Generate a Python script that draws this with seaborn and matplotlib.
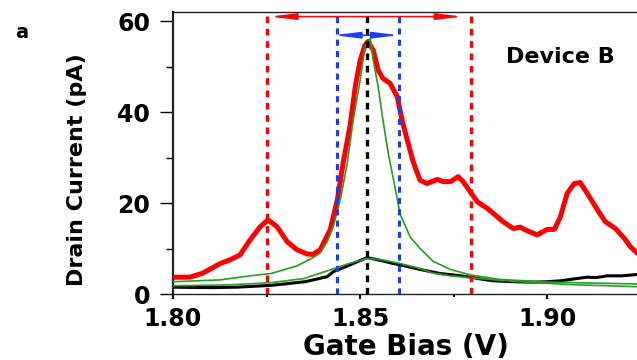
import matplotlib
matplotlib.use("Agg")
import matplotlib.pyplot as plt
import seaborn as sns
import numpy as np
import pandas as pd

# ---------------- data ----------------
red_x = [1.8000, 1.8045, 1.8080, 1.8126, 1.8152, 1.8179, 1.8206, 1.8233, 1.8254,
         1.8278, 1.8305, 1.8332, 1.8358, 1.8374, 1.8393, 1.8420, 1.8439, 1.8455,
         1.8473, 1.8487, 1.8500, 1.8513, 1.8521, 1.8535, 1.8548, 1.8561, 1.8580,
         1.8599, 1.8612, 1.8626, 1.8642, 1.8660, 1.8679, 1.8706, 1.8722, 1.8741,
         1.8762, 1.8775, 1.8794, 1.8813, 1.8840, 1.8856, 1.8882, 1.8909, 1.8928,
         1.8941, 1.8973, 1.9000, 1.9019, 1.9035, 1.9053, 1.9072, 1.9088, 1.9107,
         1.9134, 1.9155, 1.9182, 1.9206, 1.9222, 1.9241]
red_y = [3.7, 3.7, 4.6, 6.7, 7.5, 8.6, 11.9, 14.8, 16.3,
         14.8, 11.5, 9.7, 8.8, 8.7, 9.7, 14.1, 20.7, 29.0,
         37.0, 45.6, 51.4, 54.7, 55.5, 53.6, 49.2, 47.4, 46.3,
         43.4, 38.2, 33.8, 29.0, 25.0, 24.3, 25.2, 24.7, 24.7,
         25.8, 24.7, 22.5, 20.3, 18.8, 17.7, 15.9, 14.4, 14.7,
         14.1, 13.0, 14.2, 14.2, 17.0, 22.1, 24.3, 24.5, 22.1,
         18.5, 15.9, 14.4, 12.2, 10.4, 8.9]

black_x = [1.8000, 1.8100, 1.8171, 1.8262, 1.8353, 1.8412, 1.8428, 1.8470, 1.8518,
           1.8560, 1.8588, 1.8607, 1.8660, 1.8714, 1.8760, 1.8794, 1.8830, 1.8856,
           1.8910, 1.8962, 1.9000, 1.9035, 1.9070, 1.9107, 1.9130, 1.9160, 1.9200,
           1.9241]
black_y = [1.5, 1.4, 1.5, 1.9, 2.7, 3.8, 4.9, 6.3, 8.0,
           7.3, 6.7, 6.4, 5.4, 4.5, 4.1, 3.7, 3.2, 2.9,
           2.7, 2.6, 2.7, 2.9, 3.3, 3.7, 3.6, 4.0, 4.0,
           4.3]

green1_x = [1.8000, 1.8126, 1.8206, 1.8262, 1.8332, 1.8374, 1.8393, 1.8412, 1.8428,
            1.8447, 1.8465, 1.8481, 1.8500, 1.8513, 1.8527, 1.8535, 1.8548, 1.8561,
            1.8575, 1.8591, 1.8607, 1.8634, 1.8660, 1.8695, 1.8741, 1.8794, 1.8874,
            1.9008, 1.9241]
green1_y = [2.7, 3.1, 4.0, 4.5, 6.2, 8.0, 9.0, 11.5, 14.8,
            20.7, 28.5, 38.0, 47.0, 54.4, 56.2, 51.4, 45.6, 38.2,
            31.0, 24.3, 17.5, 12.5, 10.0, 7.2, 5.4, 4.2, 3.2,
            2.6, 2.2]

green2_x = [1.8000, 1.8150, 1.8262, 1.8350, 1.8420, 1.8470, 1.8518, 1.8560, 1.8607,
            1.8660, 1.8695, 1.8740, 1.8794, 1.8874, 1.8928, 1.9050, 1.9241]
green2_y = [1.8, 2.0, 2.5, 3.4, 5.3, 6.7, 7.8, 7.5, 6.7,
            5.6, 4.6, 4.0, 3.6, 3.0, 2.7, 2.1, 1.6]

red_marks = [1.8251, 1.8796]
blue_marks = [1.8439, 1.8605]
black_mark = [1.8518]
red_arrow = (1.8259, 1.8773, 61.0)
blue_arrow = (1.8430, 1.8603, 56.9)

xticks = [1.80, 1.85, 1.90]
xtick_labels = ["1.80", "1.85", "1.90"]
yticks = [0, 20, 40, 60]
ytick_labels = ["0", "20", "40", "60"]

RED = "#ff0000"
GREEN = "#22a022"
BLUE = "#1a3cff"

# ---------------- figure ----------------
sns.set_theme(style="ticks")
plt.rcParams["font.family"] = ["DejaVu Sans"]
plt.rcParams["text.color"] = "black"
plt.rcParams["axes.labelcolor"] = "black"
plt.rcParams["xtick.color"] = "black"
plt.rcParams["ytick.color"] = "black"
plt.rcParams["axes.edgecolor"] = "black"

fig = plt.figure(figsize=(6.37, 3.60), dpi=100)
ax = fig.add_axes([173 / 637, 1 - 294 / 360, 466 / 637, 282 / 360])

df_red = pd.DataFrame({"x": red_x, "y": red_y})
df_blk = pd.DataFrame({"x": black_x, "y": black_y})
df_g1 = pd.DataFrame({"x": green1_x, "y": green1_y})
df_g2 = pd.DataFrame({"x": green2_x, "y": green2_y})

sns.lineplot(data=df_red, x="x", y="y", ax=ax, color=RED, lw=3.6, sort=False, zorder=3)
sns.lineplot(data=df_blk, x="x", y="y", ax=ax, color="black", lw=2.2, sort=False, zorder=3)
sns.lineplot(data=df_g1, x="x", y="y", ax=ax, color=GREEN, lw=1.2, sort=False, zorder=4)
sns.lineplot(data=df_g2, x="x", y="y", ax=ax, color=GREEN, lw=1.2, sort=False, zorder=4)

dash = (0, (2.0, 1.7))
for xv in red_marks:
    ax.axvline(xv, color=RED, lw=2.4, ls=dash, zorder=5)
for xv in blue_marks:
    ax.axvline(xv, color=BLUE, lw=2.2, ls=dash, zorder=5)
for xv in black_mark:
    ax.axvline(xv, color="black", lw=2.4, ls=dash, zorder=5)

astyle = "<|-|>,head_length=1.3,head_width=0.16"
ax.annotate("", xy=(red_arrow[0], red_arrow[2]), xytext=(red_arrow[1], red_arrow[2]),
            arrowprops=dict(arrowstyle=astyle, color=RED, lw=1.1,
                            shrinkA=0, shrinkB=0), zorder=6)
ax.annotate("", xy=(blue_arrow[0], blue_arrow[2]), xytext=(blue_arrow[1], blue_arrow[2]),
            arrowprops=dict(arrowstyle=astyle, color=BLUE, lw=1.1,
                            shrinkA=0, shrinkB=0), zorder=6)

ax.set_xlim(1.80, 1.9245)
ax.set_ylim(0, 62)
ax.set_xticks(xticks)
ax.set_xticklabels(xtick_labels)
ax.set_yticks(yticks)
ax.set_yticklabels(ytick_labels)
ax.set_xticks([1.825, 1.875], minor=True)
ax.set_yticks([10, 30, 50], minor=True)

ax.tick_params(axis="y", which="major", direction="out", length=9.4, width=1.0,
               pad=7, labelsize=17, colors="black")
ax.tick_params(axis="y", which="minor", direction="out", length=5, width=1.0)
ax.tick_params(axis="x", which="major", direction="out", length=3.6, width=1.5,
               pad=6, labelsize=17, colors="black")
ax.tick_params(axis="x", which="minor", direction="out", length=2.2, width=1.5)
for lab in ax.get_xticklabels() + ax.get_yticklabels():
    lab.set_fontweight("bold")

for side in ["left", "top", "bottom"]:
    ax.spines[side].set_color("#222222")
ax.spines["left"].set_linewidth(1.6)
ax.spines["top"].set_linewidth(1.0)
ax.spines["bottom"].set_linewidth(1.0)
ax.spines["right"].set_visible(False)

ax.set_xlabel("Gate Bias (V)", fontsize=20, fontweight="bold", labelpad=1, color="black")
ax.set_ylabel("Drain Current (pA)", fontsize=16, fontweight="bold", color="black")
ax.yaxis.set_label_coords(-0.185, 0.44)

ax.text(1.9035, 52.1, "Device B", fontsize=16, fontweight="bold", ha="center",
        va="center", color="black")
fig.text(22 / 637, 1 - 33 / 360, "a", fontsize=14, fontweight="bold", ha="center",
         va="center", color="black")

fig.savefig("out.png", dpi=100)
